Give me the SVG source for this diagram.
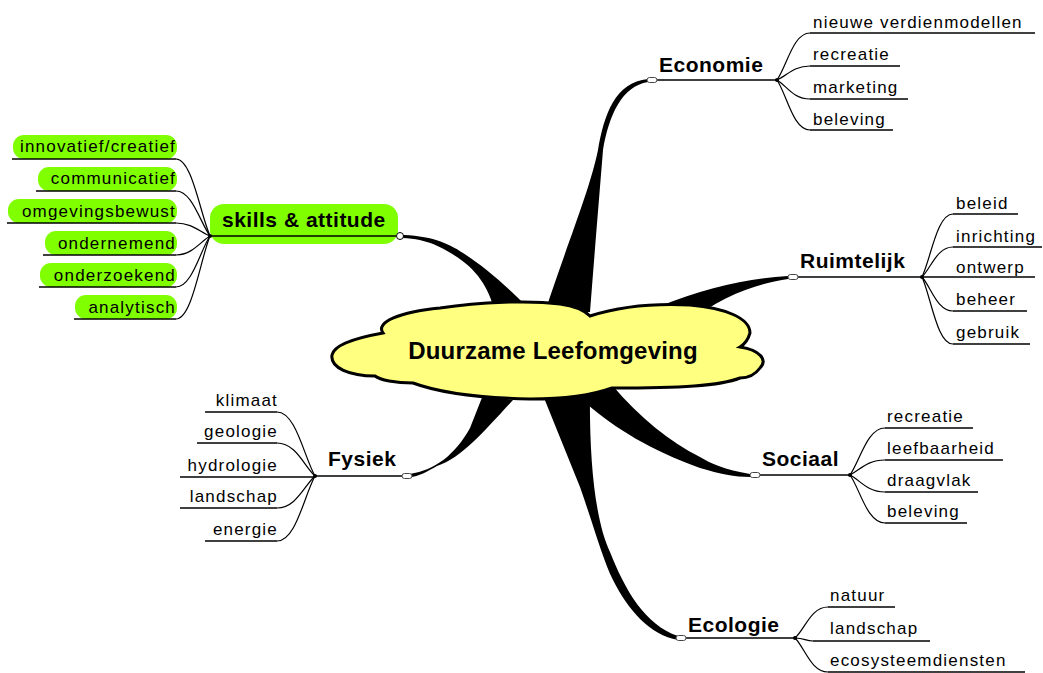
<svg xmlns="http://www.w3.org/2000/svg" width="1043" height="673" viewBox="0 0 1043 673">
<style>
text{font-family:"Liberation Sans",Arial,sans-serif;fill:#000}
.leaf{font-size:17px;letter-spacing:1.2px}
.lend{text-anchor:end}
.topic{font-size:21px;font-weight:bold;letter-spacing:0.5px}
.center{font-size:24px;font-weight:bold;letter-spacing:0.2px;text-anchor:middle}
.ul{stroke:#000;stroke-width:1.3;fill:none}
.tl{stroke:#000;stroke-width:1.6;fill:none}
.cv{stroke:#000;stroke-width:1.2;fill:none}
.br{fill:#000}
.cap{fill:#fff;stroke:#444;stroke-width:1}
.dot{fill:#000}
.pill{fill:#80ff00}
</style>
<rect width="1043" height="673" fill="#fff"/>

<g id="connectors">
  <!-- thick tapered branches -->
  <path class="br" d="M398,235 C430,235 448,243 463,253 C485,267 508,287 532,312 L495,314 C491,293 480,272 457,257 C440,246 425,238 398,238 Z"/>
  <path class="br" d="M545,312 C565,250 590,190 598,150 C604,115 615,82 648,79 L648,82 C622,86 609,115 603,150 C599,200 594,260 590,312 Z"/>
  <path class="br" d="M788,276 C750,278 705,288 660,306 L640,318 L690,322 C720,296 760,283 788,279 Z"/>
  <path class="br" d="M750,474 C725,470 710,463 700,457 C670,442 640,418 612,385 L585,395 L588,405 C615,428 650,450 700,468 C720,474 735,477 750,477 Z"/>
  <path class="br" d="M590,388 C589,460 595,520 610,552 C625,590 645,625 678,636 L678,640 C650,635 628,610 613,580 C603,560 595,530 580,487 L540,388 Z"/>
  <path class="br" d="M410,474 C435,470 455,455 470,428 L483,395 L513,400 C485,430 462,458 437,466 C428,471 418,477 410,477 Z"/>
  <!-- leaf curves: Economie -->
  <path class="cv" d="M777,80 C787,66 793,33 810,33"/>
  <path class="cv" d="M777,80 C787,76 793,66 810,66"/>
  <path class="cv" d="M777,80 C787,86 793,99 810,99"/>
  <path class="cv" d="M777,80 C787,95 793,130 810,130"/>
  <!-- Ruimtelijk -->
  <path class="cv" d="M922,277 C931,258 937,214 953,214"/>
  <path class="cv" d="M922,277 C931,268 937,247 953,247"/>
  <path class="cv" d="M922,277 C931,287 937,311 953,311"/>
  <path class="cv" d="M922,277 C931,297 937,344 953,344"/>
  <!-- Sociaal -->
  <path class="cv" d="M850,475 C860,461 867,428 885,428"/>
  <path class="cv" d="M850,475 C860,470 867,460 885,460"/>
  <path class="cv" d="M850,475 C860,480 867,492 885,492"/>
  <path class="cv" d="M850,475 C860,489 867,523 885,523"/>
  <!-- Ecologie -->
  <path class="cv" d="M795,638 C805,629 811,607 828,607"/>
  <path class="cv" d="M795,638 C805,638 805,641 813,641"/>
  <path class="cv" d="M795,638 C805,648 811,672 828,672"/>
  <!-- Fysiek -->
  <path class="cv" d="M315,476 C304,457 296,412 277,412"/>
  <path class="cv" d="M315,476 C304,466 296,443 277,443"/>
  <path class="cv" d="M315,476 C304,486 296,508 277,508"/>
  <path class="cv" d="M315,476 C304,496 296,541 277,541"/>
  <!-- skills -->
  <path class="cv" d="M210,236 C200,213 192,159 176,159"/>
  <path class="cv" d="M210,236 C200,222 192,191 176,191"/>
  <path class="cv" d="M210,236 C200,232 192,223 176,223"/>
  <path class="cv" d="M210,236 C200,242 192,255 176,255"/>
  <path class="cv" d="M210,236 C200,251 192,287 176,287"/>
  <path class="cv" d="M210,236 C200,261 192,319 176,319"/>
</g>

<g id="center">
  <path d="M383,333 C375,322 400,312 440,308 C480,302 530,300 560,304 C575,306 585,311 590,316 C615,308 650,303 690,305 C725,308 750,318 750,333 C748,340 745,344 740,347 C760,350 768,360 760,368 C755,375 748,378 740,378 C720,386 680,388 612,388 C590,396 560,399 530,399 C480,398 440,393 413,383 C395,383 380,380 375,376 C350,376 330,368 332,355 C334,345 355,338 383,333 Z" fill="#ffff80" stroke="#000" stroke-width="3"/>
  <text class="center" x="553" y="359">Duurzame Leefomgeving</text>
</g>

<g id="economie">
  <line class="tl" x1="657" y1="80" x2="777" y2="80"/>
  <rect class="cap" x="647" y="77.5" width="10" height="5" rx="2.5"/>
  <circle class="dot" cx="777" cy="80" r="2"/>
  <text class="topic" x="659" y="72">Economie</text>
</g>
<g id="economie-leaves">
  <line class="ul" x1="810" y1="33" x2="1035" y2="33"/><text class="leaf" x="813" y="28">nieuwe verdienmodellen</text>
  <line class="ul" x1="810" y1="66" x2="900" y2="66"/><text class="leaf" x="813" y="60">recreatie</text>
  <line class="ul" x1="810" y1="99" x2="908" y2="99"/><text class="leaf" x="813" y="93">marketing</text>
  <line class="ul" x1="810" y1="130" x2="893" y2="130"/><text class="leaf" x="813" y="125">beleving</text>
</g>

<g id="ruimtelijk">
  <line class="tl" x1="798" y1="277" x2="922" y2="277"/>
  <rect class="cap" x="788" y="274.5" width="10" height="5" rx="2.5"/>
  <circle class="dot" cx="922" cy="277" r="2"/>
  <text class="topic" x="800" y="268">Ruimtelijk</text>
</g>
<g id="ruimtelijk-leaves">
  <line class="ul" x1="953" y1="214" x2="1018" y2="214"/><text class="leaf" x="956" y="209">beleid</text>
  <line class="ul" x1="953" y1="247" x2="1042" y2="247"/><text class="leaf" x="956" y="242">inrichting</text>
  <line class="ul" x1="922" y1="277" x2="1035" y2="277"/><text class="leaf" x="956" y="273">ontwerp</text>
  <line class="ul" x1="953" y1="311" x2="1027" y2="311"/><text class="leaf" x="956" y="305">beheer</text>
  <line class="ul" x1="953" y1="344" x2="1030" y2="344"/><text class="leaf" x="956" y="338">gebruik</text>
</g>

<g id="sociaal">
  <line class="tl" x1="760" y1="475" x2="850" y2="475"/>
  <rect class="cap" x="750" y="472.5" width="10" height="5" rx="2.5"/>
  <circle class="dot" cx="850" cy="475" r="2"/>
  <text class="topic" x="762" y="466">Sociaal</text>
</g>
<g id="sociaal-leaves">
  <line class="ul" x1="885" y1="428" x2="973" y2="428"/><text class="leaf" x="887" y="422">recreatie</text>
  <line class="ul" x1="885" y1="460" x2="1003" y2="460"/><text class="leaf" x="887" y="454">leefbaarheid</text>
  <line class="ul" x1="885" y1="492" x2="978" y2="492"/><text class="leaf" x="887" y="486">draagvlak</text>
  <line class="ul" x1="885" y1="523" x2="967" y2="523"/><text class="leaf" x="887" y="517">beleving</text>
</g>

<g id="ecologie">
  <line class="tl" x1="686" y1="638" x2="795" y2="638"/>
  <rect class="cap" x="676" y="635.5" width="10" height="5" rx="2.5"/>
  <circle class="dot" cx="795" cy="638" r="2"/>
  <text class="topic" x="688" y="632">Ecologie</text>
</g>
<g id="ecologie-leaves">
  <line class="ul" x1="828" y1="607" x2="895" y2="607"/><text class="leaf" x="830" y="601">natuur</text>
  <line class="ul" x1="813" y1="641" x2="930" y2="641"/><text class="leaf" x="830" y="634">landschap</text>
  <line class="ul" x1="828" y1="672" x2="1025" y2="672"/><text class="leaf" x="830" y="666">ecosysteemdiensten</text>
</g>

<g id="fysiek">
  <line class="tl" x1="315" y1="476" x2="402" y2="476"/>
  <rect class="cap" x="402" y="473.5" width="10" height="5" rx="2.5"/>
  <circle class="dot" cx="315" cy="476" r="2"/>
  <text class="topic" x="328" y="466">Fysiek</text>
</g>
<g id="fysiek-leaves">
  <line class="ul" x1="205" y1="412" x2="277" y2="412"/><text class="leaf lend" x="278" y="406">klimaat</text>
  <line class="ul" x1="197" y1="443" x2="277" y2="443"/><text class="leaf lend" x="278" y="437">geologie</text>
  <line class="ul" x1="180" y1="477" x2="315" y2="477"/><text class="leaf lend" x="278" y="471">hydrologie</text>
  <line class="ul" x1="180" y1="508" x2="277" y2="508"/><text class="leaf lend" x="278" y="502">landschap</text>
  <line class="ul" x1="205" y1="541" x2="277" y2="541"/><text class="leaf lend" x="278" y="535">energie</text>
</g>

<g id="skills">
  <rect class="pill" x="210" y="204" width="188" height="40" rx="14"/>
  <line class="tl" x1="210" y1="236" x2="396" y2="236"/>
  <circle cx="400" cy="236" r="3.5" fill="#fff" stroke="#000" stroke-width="1"/>
  <circle class="dot" cx="210" cy="236" r="2"/>
  <text class="topic" x="222" y="227">skills &amp; attitude</text>
</g>
<g id="skills-leaves">
  <rect class="pill" x="13" y="135" width="164" height="24" rx="11"/>
  <line class="ul" x1="12" y1="159" x2="176" y2="159"/><text class="leaf lend" x="176" y="152">innovatief/creatief</text>
  <rect class="pill" x="38" y="167" width="139" height="24" rx="11"/>
  <line class="ul" x1="36" y1="191" x2="176" y2="191"/><text class="leaf lend" x="176" y="184">communicatief</text>
  <rect class="pill" x="8" y="199" width="169" height="24" rx="11"/>
  <line class="ul" x1="7" y1="223" x2="176" y2="223"/><text class="leaf lend" x="176" y="217">omgevingsbewust</text>
  <rect class="pill" x="45" y="231" width="132" height="24" rx="11"/>
  <line class="ul" x1="43" y1="255" x2="176" y2="255"/><text class="leaf lend" x="176" y="249">ondernemend</text>
  <rect class="pill" x="40" y="263" width="137" height="24" rx="11"/>
  <line class="ul" x1="39" y1="287" x2="176" y2="287"/><text class="leaf lend" x="176" y="281">onderzoekend</text>
  <rect class="pill" x="75" y="295" width="102" height="24" rx="11"/>
  <line class="ul" x1="74" y1="319" x2="176" y2="319"/><text class="leaf lend" x="176" y="313">analytisch</text>
</g>
</svg>
